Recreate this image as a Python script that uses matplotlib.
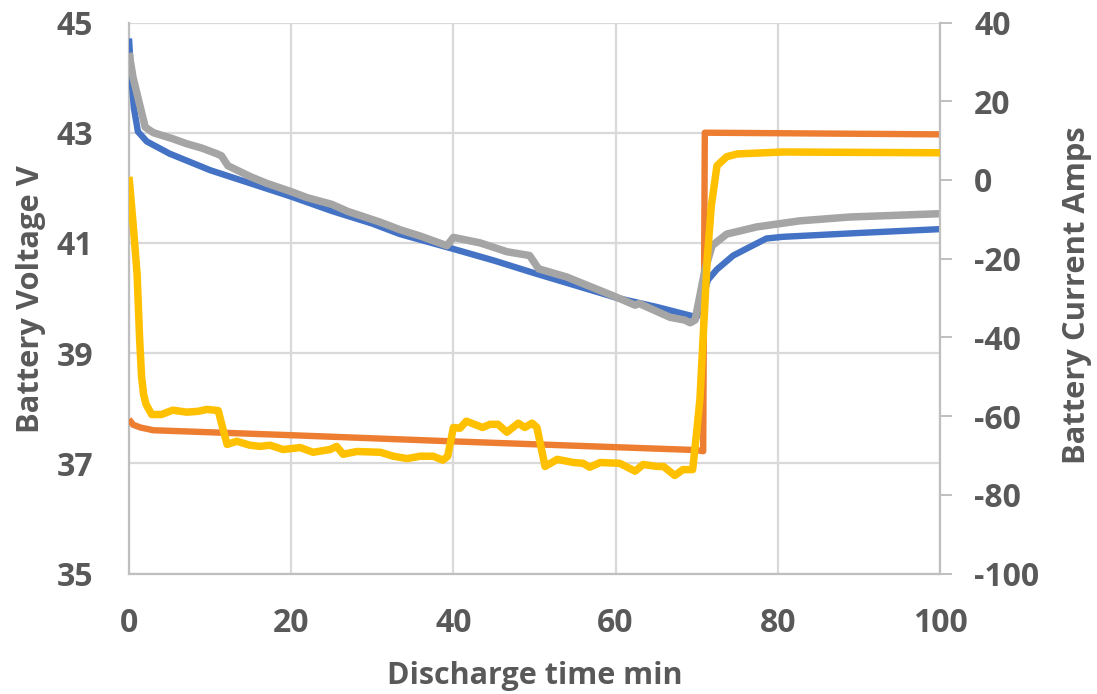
import matplotlib
matplotlib.use("Agg")
import matplotlib.pyplot as plt

plt.rcParams['font.family'] = ['Open Sans', 'DejaVu Sans']
plt.rcParams['axes.unicode_minus'] = False

# ---- data ----
blue_t = [0, 0.3, 0.6, 1.1, 2.2, 5, 10, 15, 20, 25, 30, 33.4, 40, 45, 50, 55, 60.2, 65, 69.5, 70.0,
          71.4, 72.5, 74.5, 76.6, 78.6, 80.6, 90, 100]
blue_v = [44.71, 44.0, 43.45, 43.02, 42.84, 42.62, 42.32, 42.08, 41.84, 41.58, 41.35, 41.16, 40.89, 40.68,
          40.45, 40.23, 40.0, 39.84, 39.67, 39.65, 40.33, 40.52, 40.77, 40.93, 41.08, 41.11, 41.18, 41.25]

gray_t = [0, 0.5, 2.0, 3, 5.4, 7.1, 9, 10.8, 11.4, 12.2, 15, 17, 20, 22, 25, 27, 30.9, 33.4, 36, 39.2,
          40, 43.3, 46.6, 49.4, 50.5, 54, 57, 59.7, 62.4, 62.9, 66.7, 68.5, 69.2, 69.8, 71, 71.9, 73.7,
          77.4, 82.7, 88.9, 100]
gray_v = [44.45, 44.0, 43.1, 43.0, 42.89, 42.8, 42.72, 42.62, 42.58, 42.4, 42.2, 42.08, 41.93, 41.82,
          41.7, 41.57, 41.38, 41.24, 41.12, 40.95, 41.1, 41.0, 40.84, 40.77, 40.53, 40.38, 40.2, 40.04,
          39.87, 39.9, 39.65, 39.6, 39.55, 39.6, 40.5, 40.95, 41.16, 41.29, 41.4, 41.47, 41.53]

orange_t = [0, 0.5, 1.4, 3, 20, 39.6, 70, 70.8, 71.0, 100]
orange_v = [37.8, 37.7, 37.65, 37.6, 37.51, 37.4, 37.24, 37.22, 43.0, 42.97]

yellow_t = [0, 0.5, 1.0, 1.3, 1.55, 1.8, 2.1, 2.8, 4, 5.4, 7.1, 8.5, 9.6, 11, 11.6, 12.1, 13.3, 14.9, 16.2,
            17.4, 19, 21.1, 22.7, 24.8, 25.6, 26.4, 28.1, 31, 32.6, 34.3, 35.9, 37.5, 38.7, 39.3, 40,
            40.8, 41.6, 43.6, 44.5, 45.5, 46.6, 48, 48.8, 49.7, 50.3, 51.3, 52.8, 54.8, 56, 56.8, 58.1,
            60.5, 62.4, 63.4, 65.1, 65.9, 67.3, 68.3, 69.5, 70.0, 70.4, 70.8, 71.3, 71.8, 72.5, 73.7,
            75, 80.6, 100]
yellow_i = [0.8, -11, -24, -40, -50, -54.5, -57, -59.6, -59.6, -58.5, -59, -58.8, -58.3, -58.6, -63.4, -67.2,
            -66.4, -67.4, -67.7, -67.4, -68.5, -68, -69.2, -68.5, -67.7, -69.7, -69, -69.2, -70.2, -70.8,
            -70.2, -70.2, -71.2, -70.2, -62.9, -63.1, -61.3, -62.9, -62.1, -62.1, -64.1, -61.8, -62.9,
            -61.8, -62.9, -72.8, -71, -71.8, -72, -73, -71.8, -72, -74, -72.3, -72.8, -72.8, -75.1,
            -73.6, -73.6, -64, -55.7, -39.7, -20, -6.6, 3.6, 5.9, 6.6, 7.1, 6.9]

x_ticks = [0, 20, 40, 60, 80, 100]
v_ticks = [35, 37, 39, 41, 43, 45]
i_ticks = [-100, -80, -60, -40, -20, 0, 20, 40]

TXT = '#595959'
GRID = '#d9d9d9'
SPINE = '#bfbfbf'

fig = plt.figure(figsize=(10.97, 6.94), dpi=100)
ax = fig.add_axes([129/1097, 1-573.5/694, (940-129)/1097, (573.5-22.5)/694])
ax2 = ax.twinx()

ax.set_xlim(0, 100)
ax.set_ylim(35, 45)
ax2.set_ylim(-100, 40)
ax.set_xticks(x_ticks)
ax.set_yticks(v_ticks)
ax2.set_yticks(i_ticks)

ax.grid(True, color=GRID, linewidth=1.6)
ax.set_axisbelow(True)

for a in (ax, ax2):
    for s in a.spines.values():
        s.set_visible(False)
ax.spines['left'].set_visible(True)
ax.spines['bottom'].set_visible(True)
ax2.spines['right'].set_visible(True)
for s in (ax.spines['left'], ax.spines['bottom'], ax2.spines['right']):
    s.set_color(SPINE)
    s.set_linewidth(1.6)

fs = 23
ax.tick_params(axis='x', length=0, pad=24, labelsize=fs, labelcolor=TXT)
ax.tick_params(axis='y', length=0, pad=26, labelsize=fs, labelcolor=TXT)
ax2.tick_params(axis='y', length=8.6, width=1.4, color=SPINE, pad=16, labelsize=fs, labelcolor=TXT)
for lab in ax.get_xticklabels() + ax.get_yticklabels() + ax2.get_yticklabels():
    lab.set_fontweight('bold')

ax.plot(blue_t, blue_v, color='#4472C4', linewidth=4.6, solid_joinstyle='round',
        solid_capstyle='butt', zorder=3)
ax.plot(orange_t, orange_v, color='#ED7D31', linewidth=4.6, solid_joinstyle='round',
        solid_capstyle='butt', zorder=3)
ax.plot(gray_t, gray_v, color='#A5A5A5', linewidth=5.4, solid_joinstyle='round',
        solid_capstyle='butt', zorder=4)
ax2.plot(yellow_t, yellow_i, color='#FFC000', linewidth=5.4, solid_joinstyle='round',
         solid_capstyle='butt', zorder=5)

renderer = fig.canvas.get_renderer()


def fitted_text(x, y, s, target_len, rotation=0):
    t = fig.text(x, y, s, ha='center', va='center', rotation=rotation,
                 fontsize=20, fontweight='bold', color=TXT)
    bb = t.get_window_extent(renderer=renderer)
    cur = bb.height if rotation else bb.width
    t.set_fontsize(20 * target_len / cur)
    return t


fitted_text(534.5/1097, 1-676/694, 'Discharge time min', 295)
fitted_text(31/1097, 1-299/694, 'Battery Voltage V', 268, rotation=90)
fitted_text(1077/1097, 1-295/694, 'Battery Current Amps', 338, rotation=90)

fig.savefig('out.png', dpi=100)
